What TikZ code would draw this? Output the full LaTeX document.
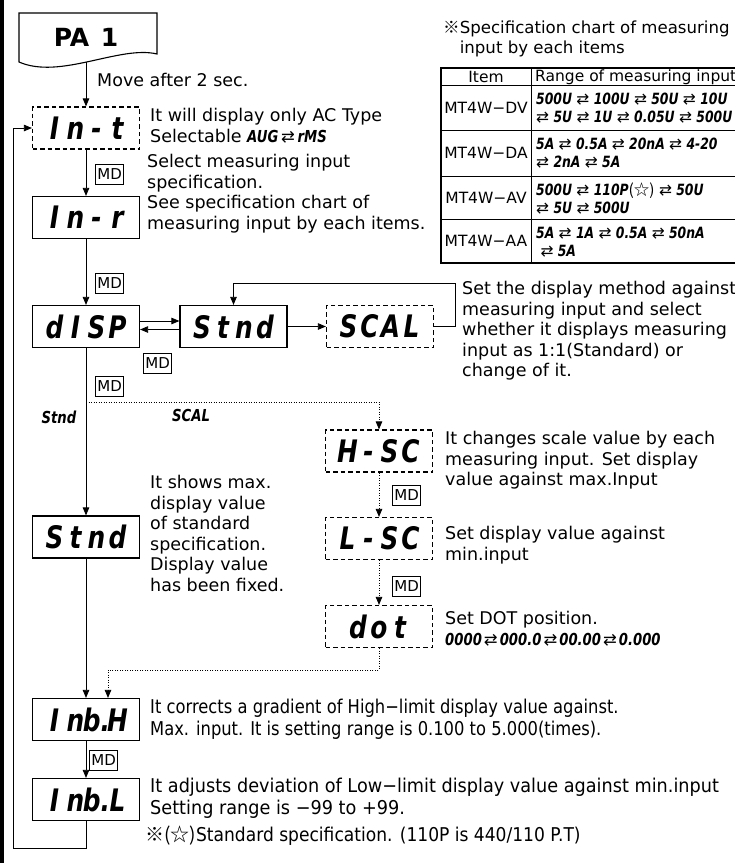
\documentclass[tikz,border=0pt]{standalone}
\usepackage{fontspec}
\setmainfont{DejaVu Sans}
\newfontfamily\segf{DejaVu Sans}[FakeStretch=0.8]
\newfontfamily\arrf{DejaVu Sans}
\newfontfamily\narf{DejaVu Sans}[FakeStretch=0.86]
\newfontfamily\wnarf{DejaVu Sans}[FakeStretch=0.93]
\newfontfamily\fnarf{DejaVu Sans}[FakeStretch=0.9]
\newfontfamily\cjk{Noto Sans CJK KR}
\usetikzlibrary{arrows.meta}
\makeatletter
\newcommand\segtext[2]{\@tfor\sg@c:=#2\do{\makebox[#1][c]{\sg@c}}}
\makeatother
\newcommand\bigseg{\segf\bfseries\itshape\fontsize{31}{31}\selectfont}
\newcommand\smseg{\segf\bfseries\itshape\fontsize{16.5}{16.5}\selectfont}
\newcommand\tsg{\segf\bfseries\itshape\fontsize{15.5}{18}\selectfont}
\newcommand\lr{{\arrf\mdseries\upshape ⇄}}
\newcommand\df{\fontsize{17.5}{20.5}\selectfont}
\newcommand\nf{\narf\fontsize{19}{21.5}\selectfont}
\newcommand\wnf{\wnarf\fontsize{19}{21.5}\selectfont}
\newcommand\fnf{\fnarf\fontsize{19}{21.5}\selectfont}
\newcommand\tf{\fontsize{15.5}{15.5}\selectfont}
\begin{document}
\begin{tikzpicture}[x=1pt,y=-1pt,
  disp/.style={draw, line width=1.2pt, minimum width=107pt, minimum height=42pt, inner sep=0pt, font=\bigseg},
  ddisp/.style={disp, dash pattern=on 4.5pt off 3pt},
  md/.style={draw, line width=0.8pt, font=\fontsize{15}{15}\selectfont, inner sep=2pt, minimum height=20pt},
  desc/.style={anchor=north west, align=left, font=\df, inner sep=0pt},
  arr/.style={-{Triangle[length=8pt,width=6.5pt]}, line width=0.8pt},
  dotarr/.style={arr, dash pattern=on 1pt off 1.5pt},
  tline/.style={line width=0.8pt}]
\useasboundingbox (0,0) rectangle (735,863);
\fill (0,0) rectangle (3.5,863);

% start block
\draw[line width=1.1pt] (19,62) -- (19,13) -- (157,13) -- (157,54) .. controls (120,45) and (60,80) .. (19,62) -- cycle;
\node[font=\bfseries\fontsize{25}{25}\selectfont] (pa) at (86,37) {PA\hspace{3pt} 1};
\coordinate (pab) at (86,62);

% display boxes
\node[ddisp] (int) at (86,128) {\segtext{21pt}{In-t}};
\node[disp] (inr) at (86,217.5) {\segtext{21pt}{In-r}};
\node[disp] (disp) at (86,326.5) {\segtext{21pt}{dISP}};
\node[disp] (stnd) at (233.5,326.5) {\segtext{21pt}{Stnd}};
\node[ddisp] (scal) at (380,326.5) {\segtext{21pt}{SCAL}};
\node[disp] (stndl) at (86,537) {\segtext{21pt}{Stnd}};
\node[ddisp] (hsc) at (379,451) {\segtext{21pt}{H-SC}};
\node[ddisp] (lsc) at (379,538.5) {\segtext{21pt}{L-SC}};
\node[ddisp] (dot) at (379,626.5) {\segtext{21pt}{dot}};
\node[disp] (inbh) at (86,719.5) {\segtext{21pt}{In{b.}H}};
\node[disp] (inbl) at (86,799.5) {\segtext{21pt}{In{b.}L}};

% MD keys
\node[md, anchor=west] (md1) at (95,174.5) {MD};
\node[md, anchor=west] (md2) at (95,283) {MD};
\node[md, anchor=west] (md3) at (143,363) {MD};
\node[md, anchor=west] (md4) at (95,386) {MD};
\node[md, anchor=west] (md5) at (392,495.5) {MD};
\node[md, anchor=west] (md6) at (392,586) {MD};
\node[md, anchor=west] (md7) at (89,760) {MD};

% connectors
\draw[arr] (pab) -- (int.north);
\draw[arr] (int.south) -- (inr.north);
\draw[arr] (inr.south) -- (disp.north);
\draw[arr] ([yshift=5.5pt]disp.east) -- ([yshift=5.5pt]stnd.west);
\draw[arr] ([yshift=-3pt]stnd.west) -- ([yshift=-3pt]disp.east);
\draw[arr] (stnd.east) -- (scal.west);
\coordinate (lp) at (455,283);
\draw[arr] (scal.east) -| (lp) -| (stnd.north);
\draw[arr] (disp.south) -- (stndl.north);
\coordinate (sp) at (86,402);
\draw[dotarr] (sp) -| (hsc.north);
\draw[dotarr] (hsc.south) -- (lsc.north);
\draw[dotarr] (lsc.south) -- (dot.north);
\coordinate (j2) at (108,670);
\draw[dotarr] (dot.south) |- (j2) -- (j2 |- inbh.north);
\draw[arr] (stndl.south) -- (inbh.north);
\draw[arr] (inbh.south) -- (inbl.north);
\coordinate (lb) at (13,848);
\draw[arr] (inbl.south) |- (lb) |- (int.west);

% branch labels
\node[font=\smseg] (lstnd) at (59,417) {Stnd};
\node[font=\smseg] (lscal) at (191,415) {SCAL};

% descriptions
\node[desc] (tmove) at (97,73) {Move after 2 sec.};
\node[desc] (tint) at (150,108) {It will display only AC Type\\Selectable {\smseg AUG\,\lr\,rMS}};
\node[desc] (tinr) at (147,154) {Select measuring input\\specification.\\See specification chart of\\measuring input by each items.};
\node[desc] (tdisp) at (462,281) {Set the display method against\\measuring input and select\\whether it displays measuring\\input as 1:1(Standard) or\\change of it.};
\node[desc] (tstnd) at (150,475) {It shows max.\\display value\\of standard\\specification.\\Display value\\has been fixed.};
\node[desc] (thsc) at (445,431) {It changes scale value by each\\measuring input. Set display\\value against max.Input};
\node[desc] (tlsc) at (445,526) {Set display value against\\min.input};
\node[desc] (tdot) at (445,611) {Set DOT position.};
\node[anchor=west, font=\smseg, inner sep=0pt] (tdots) at (445,640) {0000\hspace{2pt}\lr\hspace{2pt}000.0\hspace{2pt}\lr\hspace{2pt}00.00\hspace{2pt}\lr\hspace{2pt}0.000};
\node[desc, font=\nf] (tinbh) at (150,699) {It corrects a gradient of High−limit display value against.\\Max. input. It is setting range is 0.100 to 5.000(times).};
\node[desc, font=\wnf] (tinbl) at (150,778) {It adjusts deviation of Low−limit display value against min.input\\Setting range is −99 to +99.};
\node[anchor=west, font=\fnf, inner sep=0pt] (foot) at (145,836) {{\cjk ※(☆)}Standard specification. (110P is 440/110 P.T)};

% specification table
\node[desc, font=\fontsize{16.6}{20}\selectfont] (ttitle) at (443,21) {{\cjk ※}Specification chart of measuring\\\phantom{\cjk ※}input by each items};
\draw[line width=1.6pt] (441,67.4) -- (441,263.6);
\draw[line width=1.2pt] (440.2,68) -- (740,68);
\draw[line width=1.2pt] (440.2,263) -- (740,263);
\foreach \yy in {85,130,176,219} \draw[tline] (441,\yy) -- (740,\yy);
\draw[tline] (531,68) -- (531,263);
\node[font=\tf] (thitem) at (486,77) {Item};
\node[anchor=west, font=\tf, inner sep=0pt] (thrange) at (535,77) {Range of measuring input};
\node[font=\tf] (rdv) at (486,108) {MT4W−DV};
\node[font=\tf] (rda) at (486,153) {MT4W−DA};
\node[font=\tf] (rav) at (486,197.5) {MT4W−AV};
\node[font=\tf] (raa) at (486,241) {MT4W−AA};
\node[anchor=west, align=left, font=\tsg, inner sep=0pt] (cdv) at (536,108) {500U \lr{} 100U \lr{} 50U \lr{} 10U\\\lr{} 5U \lr{} 1U \lr{} 0.05U \lr{} 500U};
\node[anchor=west, align=left, font=\tsg, inner sep=0pt] (cda) at (536,153.5) {5A \lr{} 0.5A \lr{} 20nA \lr{} 4-20\\\lr{} 2nA \lr{} 5A};
\node[anchor=west, align=left, font=\tsg, inner sep=0pt] (cav) at (536,198) {500U \lr{} 110P{\cjk\mdseries\upshape (☆)} \lr{} 50U\\\lr{} 5U \lr{} 500U};
\node[anchor=west, align=left, font=\tsg, inner sep=0pt] (caa) at (536,242) {5A \lr{} 1A \lr{} 0.5A \lr{} 50nA\\\ \lr{} 5A};
\end{tikzpicture}
\end{document}
